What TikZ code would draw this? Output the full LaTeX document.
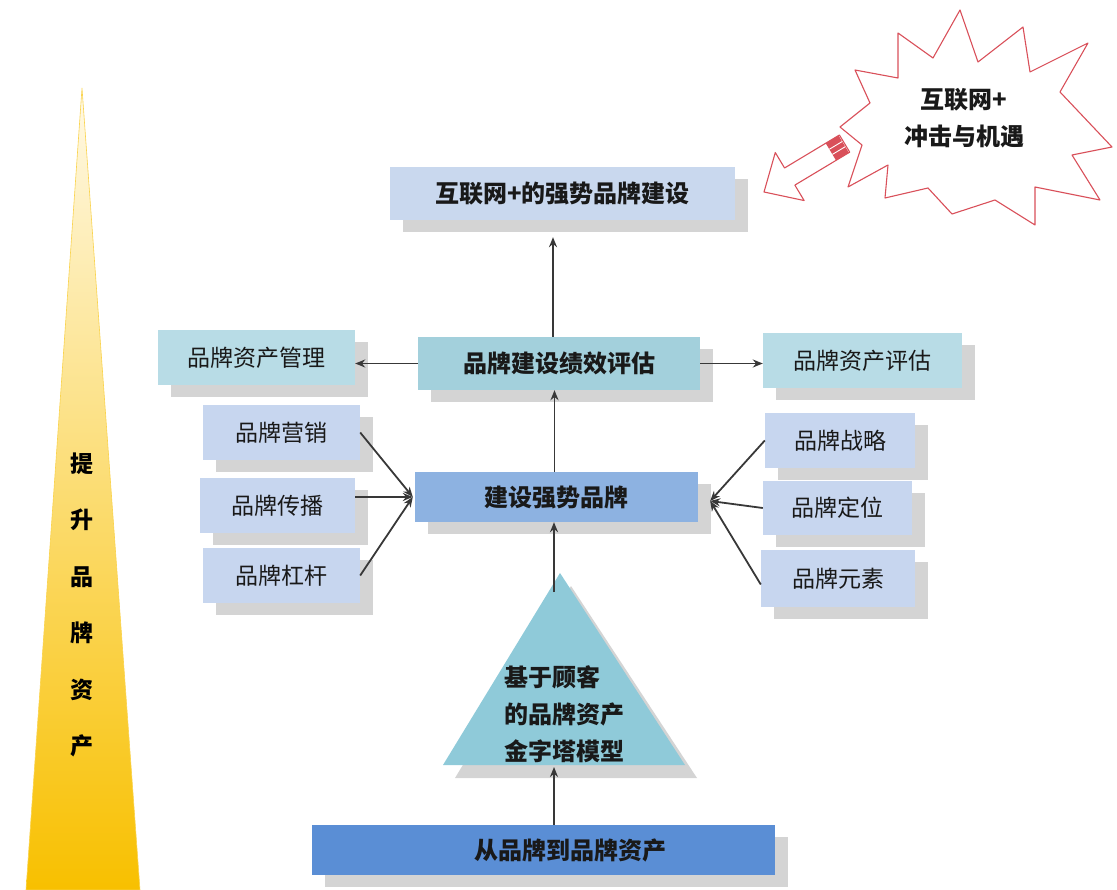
\documentclass[tikz,border=0pt]{standalone}
\usepackage{fontspec}
\setmainfont{Noto Sans CJK SC}
\usetikzlibrary{shadows,arrows.meta,calc}
\definecolor{topfill}{HTML}{C9D8EE}
\definecolor{tealfill}{HTML}{B8DCE6}
\definecolor{perffill}{HTML}{A3D0DC}
\definecolor{lightblue}{HTML}{C7D6EF}
\definecolor{buildfill}{HTML}{8DB2E1}
\definecolor{botfill}{HTML}{5A8ED5}
\definecolor{trifill}{HTML}{8FCAD9}
\definecolor{shadowgray}{HTML}{D4D4D4}
\definecolor{linegray}{HTML}{383838}
\definecolor{burstred}{HTML}{D9505A}
\definecolor{goldtop}{HTML}{FFF9E6}
\definecolor{goldmid}{HTML}{FDE6A0}
\definecolor{goldbot}{HTML}{F8C000}
\begin{document}
\begin{tikzpicture}[x=1pt,y=-1pt,
  box/.style={rectangle, inner sep=0pt, text=black!90,
    font=\fontsize{23}{28}\selectfont,
    drop shadow={shadow xshift=13pt, shadow yshift=-12pt, fill=shadowgray, opacity=1}},
  bbox/.style={box, font=\fontsize{24}{28}\selectfont\bfseries},
  conn/.style={draw=linegray, line width=1.8pt, -{Stealth[length=10pt,width=8pt]}}]
\useasboundingbox (0,0) rectangle (1117,890);

% left spike
\shade[top color=goldtop, middle color=goldmid, bottom color=goldbot, draw=goldbot!70!white, line width=0.6pt]
  (82,88) -- (140,890) -- (26,890) -- cycle;
\node[font=\fontsize{23}{56.5}\selectfont\bfseries, align=center, inner sep=0pt] (lift) at (82,605) {提\\升\\品\\牌\\资\\产};

% boxes
\node[bbox, fill=topfill, minimum width=345pt, minimum height=53pt] (top) at (562.5,193.5) {互联网+的强势品牌建设};
\node[box, fill=tealfill, minimum width=197pt, minimum height=55pt] (mgmt) at (256.5,357.5) {品牌资产管理};
\node[bbox, fill=perffill, minimum width=282pt, minimum height=53pt] (perf) at (559,363.5) {品牌建设绩效评估};
\node[box, fill=tealfill, minimum width=199pt, minimum height=55pt] (eval) at (862.5,360.5) {品牌资产评估};
\node[box, fill=lightblue, minimum width=157pt, minimum height=55pt] (mkt) at (281.5,432.5) {品牌营销};
\node[box, fill=lightblue, minimum width=155pt, minimum height=55pt] (comm) at (277.5,505.5) {品牌传播};
\node[box, fill=lightblue, minimum width=157pt, minimum height=55pt] (lev) at (281.5,575.5) {品牌杠杆};
\node[bbox, fill=buildfill, minimum width=283pt, minimum height=50pt] (build) at (556.5,497) {建设强势品牌};
\node[box, fill=lightblue, minimum width=150pt, minimum height=55pt] (strat) at (840,440.5) {品牌战略};
\node[box, fill=lightblue, minimum width=149pt, minimum height=54pt] (pos) at (837.5,508) {品牌定位};
\node[box, fill=lightblue, minimum width=154pt, minimum height=57pt] (elem) at (838,578.5) {品牌元素};
\node[bbox, fill=botfill, minimum width=463pt, minimum height=50pt] (bot) at (543.5,850) {};
\node[font=\fontsize{24}{28}\selectfont\bfseries, text=black!90, inner sep=0pt] (botlabel) at (570,850) {从品牌到品牌资产};

% triangle
\fill[shadowgray] (571,586) -- (697,778) -- (455,778) -- cycle;
\fill[trifill] (560,573) -- (685,765) -- (443,765) -- cycle;
\node[font=\fontsize{24}{37}\selectfont\bfseries, align=left, anchor=west, inner sep=0pt, text=black!90] (pyr) at (504,714) {基于顾客\\的品牌资产\\金字塔模型};
\coordinate (triTop) at (554,592);
\coordinate (triBase) at (554,767);

% connectors
\draw[conn] (bot.north -| triBase) -- (triBase);
\draw[conn] (triTop) -- (triTop |- build.south);
\draw[conn] ([xshift=-2pt]build.north) -- ([xshift=-2pt]build.north |- perf.south);
\coordinate (pN) at ($(perf.north)+(-6,0)$);
\draw[conn] (pN) -- ($(pN |- top.south)+(0,17)$);
\draw[conn] (perf.west) -- (perf.west -| mgmt.east);
\draw[conn] (perf.east) -- (perf.east -| eval.west);
\coordinate (bW) at ($(build.west)+(-2,0)$);
\coordinate (bE) at ($(build.east)+(12,4)$);
\draw[conn] (mkt.east) -- (bW);
\draw[conn] (comm.east |- bW) -- (bW);
\draw[conn] (lev.east) -- (bW);
\draw[conn] (strat.west) -- (bE);
\draw[conn] (pos.west) -- (bE);
\draw[conn] ([yshift=-6pt]elem.west) -- (bE);

% starburst
\draw[burstred, line width=1.1pt, fill=white, line join=round]
  (960,10) -- (978,62) -- (1023,27) -- (1030,72) -- (1088,43) -- (1060,92)
  -- (1112,147) -- (1072,155) -- (1100,200) -- (1035,187) -- (1035,225)
  -- (995,200) -- (952,214) -- (928,188) -- (885,198) -- (888,165)
  -- (848,187) -- (862,145) -- (840,127) -- (870,103) -- (855,70)
  -- (898,78) -- (898,33) -- (933,58) -- cycle;
\node[font=\fontsize{24}{37}\selectfont\bfseries, align=center, inner sep=0pt, text=black!90] (burst) at (964,118) {互联网+\\冲击与机遇};

% hollow arrow out of the burst
\begin{scope}[shift={(764,192)}, rotate=31]
  \draw[burstred, line width=1.1pt, fill=white, line join=round]
    (0,0) -- (30,-28) -- (30,-10) -- (94,-10) -- (94,10) -- (30,10) -- (30,28) -- cycle;
  \fill[burstred] (78,-10) rectangle (93,10);
  \draw[white, line width=0.9pt] (78,-3) -- (93,-3) (78,3) -- (93,3);
\end{scope}
\end{tikzpicture}
\end{document}
